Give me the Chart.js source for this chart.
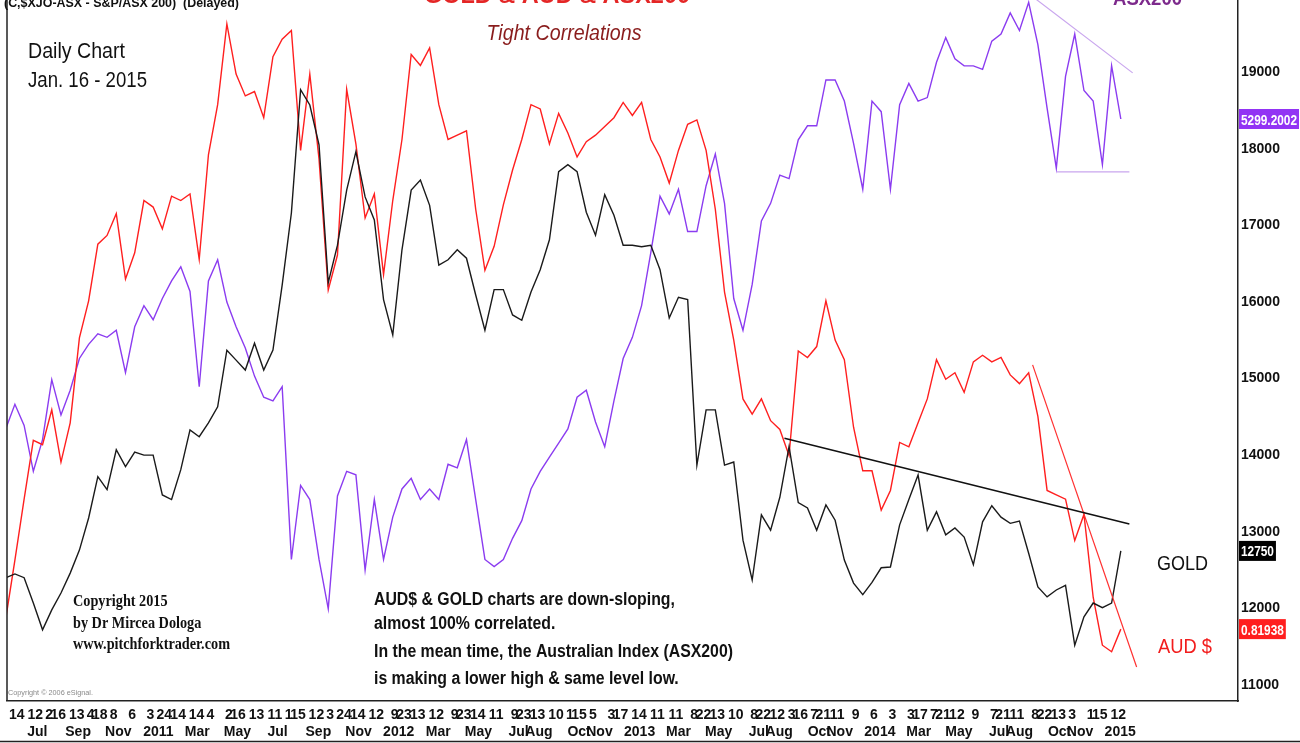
<!DOCTYPE html>
<html>
<head>
<meta charset="utf-8">
<script src="https://cdn.jsdelivr.net/npm/chart.js@4.4.1/dist/chart.umd.min.js"></script>
<style>
  body { margin: 0; background: #fff; }
  canvas { display: block; }
</style>
</head>
<body>
<canvas id="myChart" width="1300" height="743"></canvas>
<script>
// one sample every 14 days, the last one on the chart date
const lastSample = '2015-01-16'
const sampleStepDays = 14

// gold, $ x10 (right axis units)
const gold = [
  12400, 12450, 12400, 12070, 11720, 11980, 12200, 12460, 12760, 13180,
  13720, 13550, 14070, 13850, 14040, 14000, 14000, 13480, 13420, 13810,
  14330, 14240, 14420, 14630, 15370, 15240, 15110, 15460, 15110, 15370,
  16220, 17160, 18770, 18570, 18050, 16250, 16740, 17460, 17960, 17370,
  17070, 16030, 15570, 16680, 17460, 17590, 17260, 16480, 16550, 16680,
  16570, 16090, 15630, 16160, 16160, 15830, 15760, 16130, 16420, 16810,
  17700, 17790, 17700, 17170, 16870, 17400, 17130, 16740, 16740, 16720,
  16740, 16420, 15790, 16060, 16030, 13870, 14590, 14590, 13870, 13910,
  12890, 12370, 13220, 13020, 13450, 14110, 13380, 13310, 13020, 13350,
  13150, 12630, 12330, 12180, 12340, 12530, 12540, 13090, 13420, 13740,
  13020, 13260, 12960, 13050, 12930, 12570, 13130, 13340, 13190, 13110,
  13140, 12720, 12280, 12150, 12240, 12300, 11520, 11890, 12070, 12010,
  12070, 12750
]

// AUD in USD
const aud = [
  0.824, 0.851, 0.879, 0.906, 0.904, 0.920, 0.896, 0.914, 0.953, 0.970,
  0.996, 1.000, 1.010, 0.980, 0.992, 1.016, 1.013, 1.003, 1.018, 1.016,
  1.019, 0.989, 1.037, 1.060, 1.097, 1.074, 1.064, 1.066, 1.054, 1.082,
  1.090, 1.094, 1.039, 1.074, 1.035, 0.975, 0.991, 1.067, 1.042, 1.008,
  1.019, 0.982, 1.016, 1.044, 1.083, 1.078, 1.086, 1.060, 1.044, 1.046,
  1.048, 1.012, 0.984, 0.995, 1.014, 1.030, 1.044, 1.060, 1.058, 1.042,
  1.056, 1.047, 1.036, 1.043, 1.046, 1.050, 1.054, 1.061, 1.055, 1.061,
  1.044, 1.036, 1.024, 1.039, 1.051, 1.053, 1.039, 1.012, 0.974, 0.952,
  0.925, 0.918, 0.925, 0.915, 0.911, 0.899, 0.947, 0.944, 0.949, 0.970,
  0.952, 0.943, 0.912, 0.892, 0.892, 0.874, 0.883, 0.905, 0.903, 0.914,
  0.925, 0.943, 0.934, 0.937, 0.928, 0.942, 0.945, 0.942, 0.944, 0.936,
  0.932, 0.937, 0.917, 0.883, 0.881, 0.879, 0.860, 0.872, 0.834, 0.812,
  0.809, 0.81938
]

// S&P/ASX 200
const asx200 = [
  4420, 4490, 4430, 4300, 4390, 4560, 4460, 4530, 4620, 4660,
  4690, 4680, 4700, 4580, 4710, 4770, 4730, 4790, 4840, 4880,
  4810, 4540, 4840, 4900, 4780, 4710, 4650, 4570, 4510, 4500,
  4540, 4050, 4260, 4220, 4050, 3910, 4230, 4300, 4290, 4020,
  4220, 4050, 4170, 4250, 4280, 4220, 4250, 4220, 4320, 4310,
  4390, 4220, 4050, 4030, 4050, 4110, 4160, 4250, 4300, 4340,
  4380, 4420, 4510, 4530, 4440, 4370, 4500, 4620, 4680, 4770,
  4920, 5080, 5030, 5100, 4980, 4980, 5110, 5200, 5060, 4790,
  4700, 4830, 5010, 5060, 5140, 5130, 5240, 5280, 5280, 5410,
  5410, 5350, 5230, 5100, 5350, 5320, 5100, 5340, 5400, 5350,
  5360, 5460, 5530, 5470, 5450, 5450, 5440, 5520, 5540, 5600,
  5550, 5630, 5510, 5330, 5160, 5420, 5540, 5380, 5350, 5170,
  5450, 5299.2002
]

// trend lines drawn on the chart
const goldTrend = [['2013-08-23', 14220], ['2015-01-29', 13100]]
const audTrend = [['2014-09-04', 0.9406], ['2015-02-09', 0.802]]
const asxTopLine = [['2014-08-19', 5669], ['2015-02-03', 5430]]
const asxFloorLine = [['2014-10-11', 5149], ['2015-01-29', 5149]]

// axes
const goldTicks = [11000, 12000, 13000, 14000, 15000, 16000, 17000, 18000, 19000]
const dayTicks = [
  '2010-06-14', '2010-07-12', '2010-08-02', '2010-08-16', '2010-09-13', '2010-10-04', '2010-10-18', '2010-11-08', '2010-12-06',
  '2011-01-03', '2011-01-24', '2011-02-14', '2011-03-14', '2011-04-04', '2011-05-02', '2011-05-16', '2011-06-13', '2011-07-11',
  '2011-08-01', '2011-08-15', '2011-09-12', '2011-10-03', '2011-10-24', '2011-11-14', '2011-12-12',
  '2012-01-09', '2012-01-23', '2012-02-13', '2012-03-12', '2012-04-09', '2012-04-23', '2012-05-14', '2012-06-11', '2012-07-09',
  '2012-07-23', '2012-08-13', '2012-09-10', '2012-10-01', '2012-10-15', '2012-11-05', '2012-12-03', '2012-12-17',
  '2013-01-14', '2013-02-11', '2013-03-11', '2013-04-08', '2013-04-22', '2013-05-13', '2013-06-10', '2013-07-08', '2013-07-22',
  '2013-08-12', '2013-09-03', '2013-09-16', '2013-10-07', '2013-10-21', '2013-11-11', '2013-12-09',
  '2014-01-06', '2014-02-03', '2014-03-03', '2014-03-17', '2014-04-07', '2014-04-21', '2014-05-12', '2014-06-09', '2014-07-07',
  '2014-07-21', '2014-08-11', '2014-09-08', '2014-09-22', '2014-10-13', '2014-11-03', '2014-12-01', '2014-12-15',
  '2015-01-12'
]
const monthTicks = [
  '2010-07', '2010-09', '2010-11', '2011-01', '2011-03', '2011-05', '2011-07', '2011-09', '2011-11',
  '2012-01', '2012-03', '2012-05', '2012-07', '2012-08', '2012-10', '2012-11',
  '2013-01', '2013-03', '2013-05', '2013-07', '2013-08', '2013-10', '2013-11',
  '2014-01', '2014-03', '2014-05', '2014-07', '2014-08', '2014-10', '2014-11', '2015-01'
]
const monthNames = ['Jan', 'Feb', 'Mar', 'Apr', 'May', 'Jun', 'Jul', 'Aug', 'Sep', 'Oct', 'Nov', 'Dec']

// visible ranges (match the cropped source picture)
const xRange = ['2010-05-30', '2015-07-13']
const goldRange = [10791, 19940]
const audRange = [0.7864, 1.108]
const asxRange = [3648.6, 5636.7]

const SANS = '"Liberation Sans", Arial, sans-serif'
const SERIF = '"Liberation Serif", "Times New Roman", serif'

function dayNum(s) {
  const [y, m, d] = s.split('-').map(Number)
  return Date.UTC(y, m - 1, d || 1) / 86400000
}

const sampleDays = gold.map((_, i) => dayNum(lastSample) - sampleStepDays * (gold.length - 1 - i))
const toPoints = arr => arr.map((v, i) => ({ x: sampleDays[i], y: v }))
const toLine = pairs => pairs.map(p => ({ x: dayNum(p[0]), y: p[1] }))

function drawText(ctx, t, scale) {
  ctx.font = t.font
  const w = ctx.measureText(t.text).width
  const s = scale || (t.width ? t.width / w : 1)
  ctx.save()
  ctx.translate(t.x, t.y)
  ctx.scale(s, 1)
  ctx.fillStyle = t.color || '#111'
  ctx.textAlign = t.align || 'left'
  ctx.textBaseline = 'alphabetic'
  ctx.fillText(t.text, 0, 0)
  ctx.restore()
}

const notes = [
  { text: '(C,$XJO-ASX - S&P/ASX 200)  (Delayed)', x: 4, y: 7, font: 'bold 13px ' + SANS, width: 235 },
  { text: 'GOLD & AUD & ASX200', x: 557, y: 3, font: 'bold 24px ' + SANS, color: '#e42626', width: 266, align: 'center' },
  { text: 'Tight Correlations', x: 564, y: 40, font: 'italic 22px ' + SANS, color: '#8a1d1d', width: 155, align: 'center' },
  { text: 'ASX200', x: 1113, y: 5, font: 'bold 20px ' + SANS, color: '#7d2a8c', width: 69 },
  { text: 'Daily Chart', x: 28, y: 58, font: '22px ' + SANS, width: 97 },
  { text: 'Jan. 16 - 2015', x: 28, y: 87, font: '22px ' + SANS, width: 119 },
  { text: 'GOLD', x: 1157, y: 570, font: '21px ' + SANS, width: 51 },
  { text: 'AUD $', x: 1158, y: 653, font: '21px ' + SANS, color: '#f21d1d', width: 54 },
  { text: 'Copyright \u00a9 2006 eSignal.', x: 8, y: 695, font: '8px ' + SANS, color: '#8a8a8a', width: 85 }
]
const copyright = ['Copyright 2015', 'by Dr Mircea Dologa', 'www.pitchforktrader.com']
const comment = [
  'AUD$ & GOLD charts are down-sloping,',
  'almost 100% correlated.',
  'In the mean time, the Australian Index (ASX200)',
  'is making a lower high & same level low.'
]

const overlay = {
  id: 'overlay',
  afterDraw(chart) {
    const ctx = chart.ctx
    const area = chart.chartArea
    ctx.save()
    ctx.strokeStyle = '#222'
    ctx.lineWidth = 1.5
    ctx.beginPath()
    ctx.moveTo(area.left, 0)
    ctx.lineTo(area.left, area.bottom)
    ctx.stroke()
    ctx.beginPath()
    ctx.moveTo(0, 741.5)
    ctx.lineTo(1300, 741.5)
    ctx.stroke()

    notes.forEach(t => drawText(ctx, t))

    let font = 'bold 16px ' + SERIF
    ctx.font = font
    let s = 157 / ctx.measureText(copyright[2]).width
    copyright.forEach((line, i) => drawText(ctx, { text: line, x: 73, y: 606 + i * 21.5, font }, s))

    font = 'bold 18px ' + SANS
    ctx.font = font
    s = 359 / ctx.measureText(comment[2]).width
    const baselines = [605, 629, 657, 684]
    comment.forEach((line, i) => drawText(ctx, { text: line, x: 374, y: baselines[i], font }, s))

    // last value boxes on the right axis
    const boxes = [['yAsx', asx200, '#9234f4'], ['y', gold, '#000'], ['yAud', aud, '#ff1f1f']]
    font = 'bold 15px ' + SANS
    ctx.font = font
    s = 56 / ctx.measureText(String(asx200[asx200.length - 1])).width
    boxes.forEach(([id, arr, color]) => {
      const v = arr[arr.length - 1]
      const py = chart.scales[id].getPixelForValue(v)
      const label = String(v)
      ctx.font = font
      const w = ctx.measureText(label).width * s
      ctx.fillStyle = color
      ctx.fillRect(area.right + 1, py - 10, w + 4, 20)
      drawText(ctx, { text: label, x: area.right + 3, y: py + 5.5, font, color: '#fff' }, s)
    })
    ctx.restore()
  }
}

const lineStyle = { pointRadius: 0, borderWidth: 1.4, tension: 0, fill: false }
const tickFont = { family: SANS, size: 14, weight: 'bold' }
const noPad = s => { s.paddingTop = 0; s.paddingBottom = 0; s.paddingLeft = 0; s.paddingRight = 0 }

new Chart(document.getElementById('myChart'), {
  type: 'line',
  data: {
    datasets: [
      { label: 'GOLD', data: toPoints(gold), yAxisID: 'y', borderColor: '#1a1a1a', order: 1, ...lineStyle },
      { label: 'AUD $', data: toPoints(aud), yAxisID: 'yAud', borderColor: '#ff1f1f', order: 2, ...lineStyle },
      { label: 'ASX200', data: toPoints(asx200), yAxisID: 'yAsx', borderColor: '#8b3cf0', order: 3, ...lineStyle },
      { label: 'gold trend', data: toLine(goldTrend), yAxisID: 'y', borderColor: '#111', order: 0, ...lineStyle, borderWidth: 1.6 },
      { label: 'aud trend', data: toLine(audTrend), yAxisID: 'yAud', borderColor: '#ff3030', order: 0, ...lineStyle, borderWidth: 1.2 },
      { label: 'asx top', data: toLine(asxTopLine), yAxisID: 'yAsx', borderColor: '#c9a6ee', order: 4, ...lineStyle, borderWidth: 1.2 },
      { label: 'asx floor', data: toLine(asxFloorLine), yAxisID: 'yAsx', borderColor: '#c9a6ee', order: 4, ...lineStyle, borderWidth: 1.2 }
    ]
  },
  options: {
    responsive: false,
    animation: false,
    devicePixelRatio: 1,
    layout: { padding: { left: 7, top: 0, right: 0, bottom: 0 } },
    plugins: { legend: { display: false }, tooltip: { enabled: false } },
    scales: {
      x: {
        type: 'linear',
        position: 'bottom',
        min: dayNum(xRange[0]),
        max: dayNum(xRange[1]),
        grid: { display: false, drawTicks: false },
        border: { display: true, color: '#222', width: 1.5 },
        ticks: {
          autoSkip: false,
          maxRotation: 0,
          padding: 6,
          color: '#111',
          font: tickFont,
          callback: (v, i) => String(Number(dayTicks[i].slice(8)))
        },
        afterBuildTicks: s => { s.ticks = dayTicks.map(d => ({ value: dayNum(d) })) },
        afterFit: s => { s.height = 21; noPad(s) }
      },
      x2: {
        type: 'linear',
        position: 'bottom',
        min: dayNum(xRange[0]),
        max: dayNum(xRange[1]),
        grid: { display: false, drawTicks: false },
        border: { display: false },
        ticks: {
          autoSkip: false,
          maxRotation: 0,
          padding: 2,
          color: '#111',
          font: tickFont,
          callback: (v, i) => {
            const [y, m] = monthTicks[i].split('-').map(Number)
            return m === 1 ? String(y) : monthNames[m - 1]
          }
        },
        afterBuildTicks: s => { s.ticks = monthTicks.map(d => ({ value: dayNum(d + '-15') })) },
        afterFit: s => { s.height = 21; noPad(s) }
      },
      y: {
        type: 'linear',
        position: 'right',
        min: goldRange[0],
        max: goldRange[1],
        grid: { display: false, drawTicks: false },
        border: { display: true, color: '#222', width: 1.5 },
        ticks: { padding: 3, color: '#111', font: tickFont, callback: v => String(v) },
        afterBuildTicks: s => { s.ticks = goldTicks.map(v => ({ value: v })) },
        afterFit: s => { s.width = 62; noPad(s) }
      },
      yAud: { type: 'linear', display: false, min: audRange[0], max: audRange[1] },
      yAsx: { type: 'linear', display: false, min: asxRange[0], max: asxRange[1] }
    }
  },
  plugins: [overlay]
})
</script>
</body>
</html>
